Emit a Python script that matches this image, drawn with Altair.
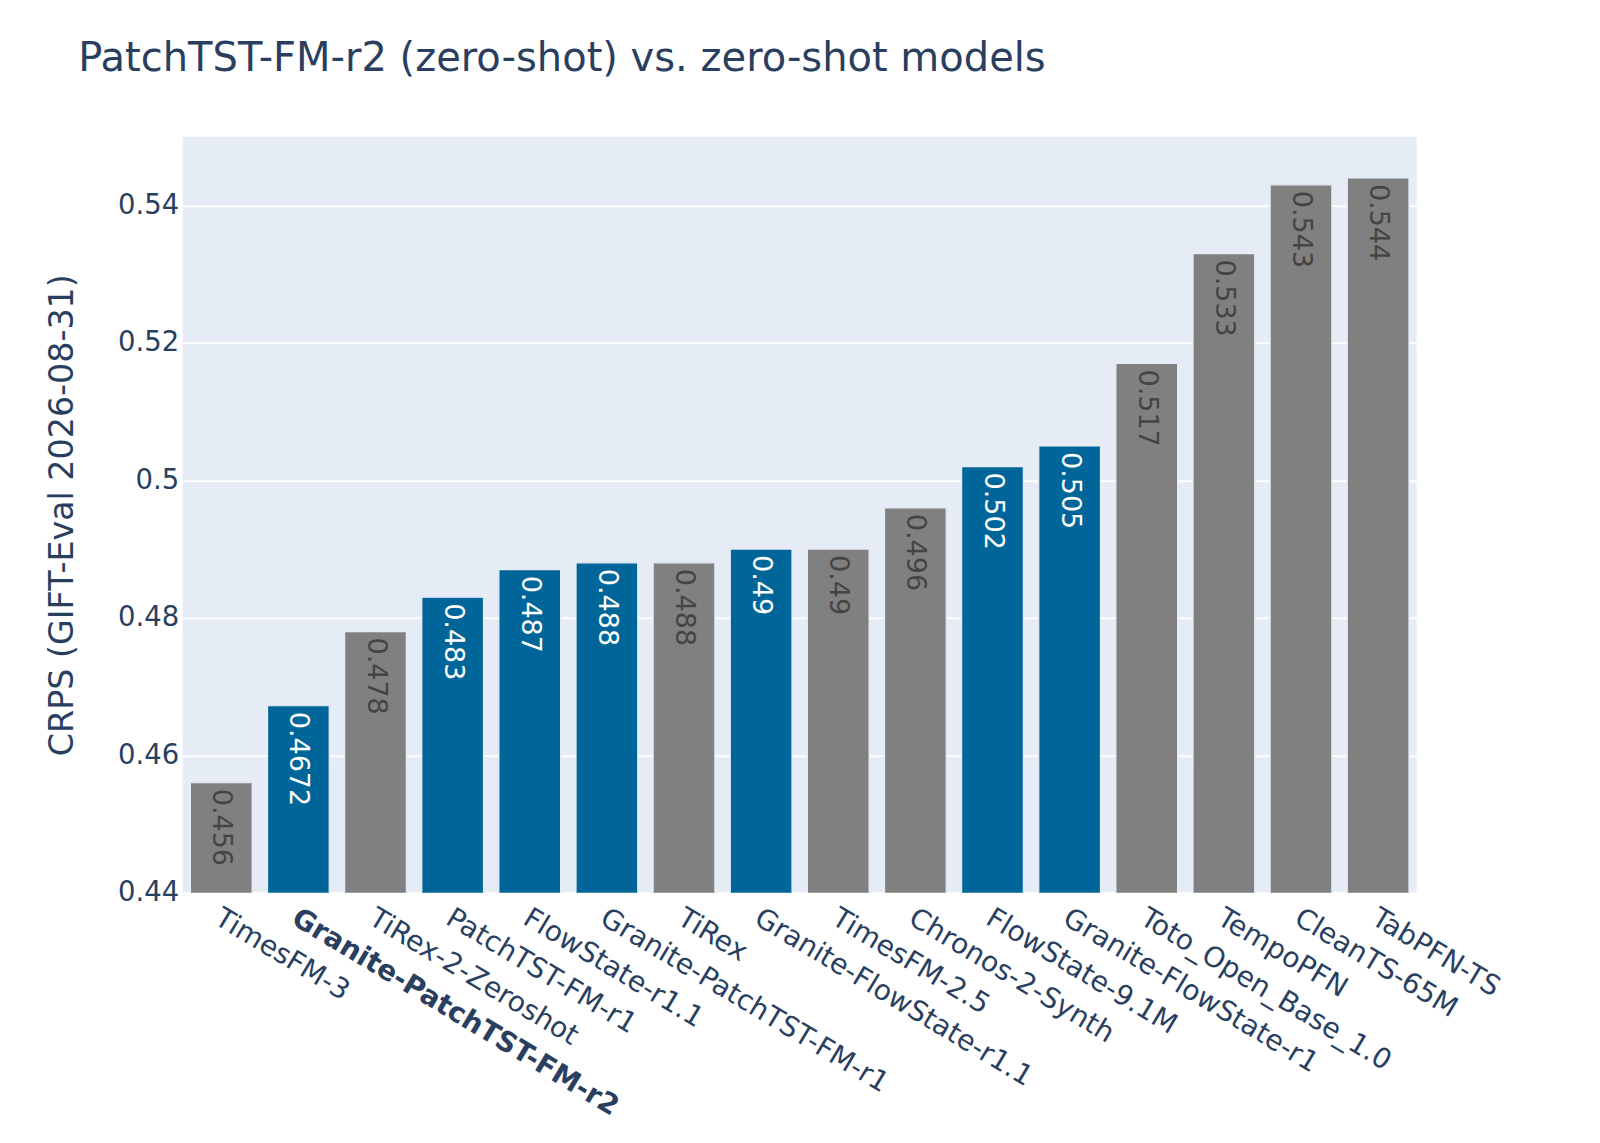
import altair as alt
import pandas as pd

models = [
    "TimesFM-3", "Granite-PatchTST-FM-r2", "TiRex-2-Zeroshot", "PatchTST-FM-r1",
    "FlowState-r1.1", "Granite-PatchTST-FM-r1", "TiRex", "Granite-FlowState-r1.1",
    "TimesFM-2.5", "Chronos-2-Synth", "FlowState-9.1M", "Granite-FlowState-r1",
    "Toto_Open_Base_1.0", "TempoPFN", "CleanTS-65M", "TabPFN-TS",
]
crps = [0.456, 0.4672, 0.478, 0.483, 0.487, 0.488, 0.488, 0.49,
        0.49, 0.496, 0.502, 0.505, 0.517, 0.533, 0.543, 0.544]
family = ["other", "ibm", "other", "ibm", "ibm", "ibm", "other", "ibm",
          "other", "other", "ibm", "ibm", "other", "other", "other", "other"]
y_ticks = [0.44, 0.46, 0.48, 0.50, 0.52, 0.54]

df = pd.DataFrame({"model": models, "crps": crps, "family": family})

FONT = "DejaVu Sans"
INK = "#2a3f5f"

x_enc = alt.X(
    "model:N", sort=models, title=None,
    scale=alt.Scale(paddingInner=0.2, paddingOuter=0.1),
    axis=alt.Axis(
        labelAngle=31, labelAlign="left", labelBaseline="top",
        labelPadding=11, labelOffset=3, labelFontSize=28, labelFont=FONT,
        labelColor=INK, labelLimit=2000, labelOverlap=False,
        labelFontWeight={"condition": {"test": "datum.value == 'Granite-PatchTST-FM-r2'", "value": "bold"}, "value": "normal"},
        ticks=False, domain=False, grid=False,
    ),
)
y_enc = alt.Y(
    "crps:Q",
    scale=alt.Scale(domain=[0.44, 0.55], nice=False, zero=False),
    axis=alt.Axis(
        values=y_ticks, format="~g", title="CRPS (GIFT-Eval 2026-08-31)",
        labelFontSize=27.5, labelFont=FONT, labelColor=INK, labelPadding=4,
        titleFontSize=33.3, titleFont=FONT, titleColor=INK, titleFontWeight="normal",
        titleX=-110, titleY=378, titleAngle=-90, titleAlign="center", titleBaseline="alphabetic",
        ticks=False, domain=False, grid=True, gridColor="white", gridWidth=2,
    ),
)

base = alt.Chart(df).encode(x=x_enc)

bars = base.mark_bar(stroke="#E5ECF6", strokeWidth=1.2, clip=True).encode(
    y=y_enc,
    color=alt.Color("family:N", scale=alt.Scale(domain=["ibm", "other"], range=["#006699", "#808080"]), legend=None),
)

labels = base.mark_text(angle=90, align="left", baseline="middle", dx=6, fontSize=27, font=FONT).encode(
    y=alt.Y("crps:Q"),
    text=alt.Text("crps:Q", format="~g"),
    color=alt.condition(alt.datum.family == "ibm", alt.value("white"), alt.value("#444444")),
)

chart = (
    alt.layer(bars, labels)
    .properties(
        width=1234, height=756,
        autosize=alt.AutoSizeParams(type="none"),
        padding={"left": 174.7, "top": 128.7, "right": 175, "bottom": 242},
        title=alt.TitleParams(
            "PatchTST-FM-r2 (zero-shot) vs. zero-shot models",
            anchor="start", frame="group", dx=-104.4, offset=26, baseline="alphabetic",
            fontSize=40, font=FONT, color=INK, fontWeight="normal",
        ),
    )
    .configure(background="white", font=FONT)
    .configure_view(fill="#E5ECF6", stroke="transparent", strokeWidth=0)
)

chart.save("out.html", embed_options={"renderer": "svg", "actions": False})
